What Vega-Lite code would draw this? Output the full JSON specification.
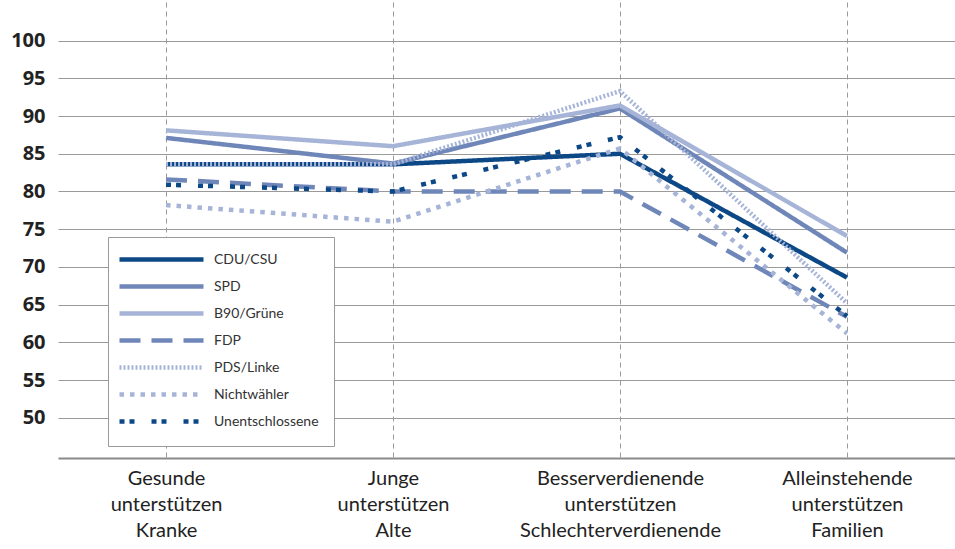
{
  "$schema": "https://vega.github.io/schema/vega-lite/v6.json",
  "autosize": {"type": "none"},
  "width": 897,
  "height": 456,
  "padding": {"left": 58, "top": 2, "right": 0, "bottom": 91},
  "background": "white",
  "config": {
    "view": {"stroke": null},
    "font": "Open Sans"
  },
  "data": {
    "values": [
      {"cat": "Gesunde unterstützen Kranke", "party": "CDU/CSU", "value": 83.6},
      {"cat": "Junge unterstützen Alte", "party": "CDU/CSU", "value": 83.6},
      {"cat": "Besserverdienende unterstützen Schlechterverdienende", "party": "CDU/CSU", "value": 85.0},
      {"cat": "Alleinstehende unterstützen Familien", "party": "CDU/CSU", "value": 68.6},
      {"cat": "Gesunde unterstützen Kranke", "party": "SPD", "value": 87.1},
      {"cat": "Junge unterstützen Alte", "party": "SPD", "value": 83.7},
      {"cat": "Besserverdienende unterstützen Schlechterverdienende", "party": "SPD", "value": 91.0},
      {"cat": "Alleinstehende unterstützen Familien", "party": "SPD", "value": 71.9},
      {"cat": "Gesunde unterstützen Kranke", "party": "B90/Grüne", "value": 88.1},
      {"cat": "Junge unterstützen Alte", "party": "B90/Grüne", "value": 86.0},
      {"cat": "Besserverdienende unterstützen Schlechterverdienende", "party": "B90/Grüne", "value": 91.4},
      {"cat": "Alleinstehende unterstützen Familien", "party": "B90/Grüne", "value": 74.1},
      {"cat": "Gesunde unterstützen Kranke", "party": "FDP", "value": 81.6},
      {"cat": "Junge unterstützen Alte", "party": "FDP", "value": 80.0},
      {"cat": "Besserverdienende unterstützen Schlechterverdienende", "party": "FDP", "value": 80.0},
      {"cat": "Alleinstehende unterstützen Familien", "party": "FDP", "value": 63.4},
      {"cat": "Gesunde unterstützen Kranke", "party": "PDS/Linke", "value": 83.6},
      {"cat": "Junge unterstützen Alte", "party": "PDS/Linke", "value": 83.6},
      {"cat": "Besserverdienende unterstützen Schlechterverdienende", "party": "PDS/Linke", "value": 93.3},
      {"cat": "Alleinstehende unterstützen Familien", "party": "PDS/Linke", "value": 65.2},
      {"cat": "Gesunde unterstützen Kranke", "party": "Nichtwähler", "value": 78.2},
      {"cat": "Junge unterstützen Alte", "party": "Nichtwähler", "value": 76.0},
      {"cat": "Besserverdienende unterstützen Schlechterverdienende", "party": "Nichtwähler", "value": 85.7},
      {"cat": "Alleinstehende unterstützen Familien", "party": "Nichtwähler", "value": 61.2},
      {"cat": "Gesunde unterstützen Kranke", "party": "Unentschlossene", "value": 80.9},
      {"cat": "Junge unterstützen Alte", "party": "Unentschlossene", "value": 80.0},
      {"cat": "Besserverdienende unterstützen Schlechterverdienende", "party": "Unentschlossene", "value": 87.2},
      {"cat": "Alleinstehende unterstützen Familien", "party": "Unentschlossene", "value": 63.5}
    ]
  },
  "mark": {"type": "line", "strokeWidth": 4.5, "strokeCap": "butt", "strokeJoin": "miter"},
  "encoding": {
    "x": {
      "field": "cat",
      "type": "nominal",
      "sort": null,
      "scale": {"type": "point", "padding": 0.476},
      "axis": {
        "title": null,
        "labelAngle": 0,
        "labelExpr": "split(datum.value, ' ')",
        "labelFont": "Lato",
        "labelFontSize": 20,
        "labelLineHeight": 26,
        "labelColor": "#222222",
        "labelPadding": 10,
        "labelBaseline": "top",
        "labelLimit": 400,
        "domain": true,
        "domainColor": "#8a8a8a",
        "domainWidth": 2,
        "ticks": false,
        "grid": true,
        "gridColor": "#9a9a9a",
        "gridDash": [5, 4],
        "gridWidth": 1
      }
    },
    "y": {
      "field": "value",
      "type": "quantitative",
      "scale": {"domain": [44.7, 105.1], "nice": false, "zero": false},
      "axis": {
        "title": null,
        "values": [50, 55, 60, 65, 70, 75, 80, 85, 90, 95, 100],
        "labelFontSize": 20,
        "labelFontWeight": "bold",
        "labelColor": "#222222",
        "labelPadding": 13,
        "ticks": false,
        "domain": false,
        "grid": true,
        "gridColor": "#9a9a9a",
        "gridWidth": 1
      }
    },
    "color": {
      "field": "party",
      "type": "nominal",
      "scale": {
        "domain": ["CDU/CSU", "SPD", "B90/Grüne", "FDP", "PDS/Linke", "Nichtwähler", "Unentschlossene"],
        "range": ["#0d4886", "#6f86b8", "#a6b4d8", "#6f86b8", "#a6b4d8", "#a6b4d8", "#0d4886"]
      },
      "legend": {
        "title": null,
        "orient": "none",
        "legendX": 50,
        "legendY": 235,
        "symbolType": "M-1,0H15.8",
        "symbolSize": 100,
        "symbolStrokeWidth": 4.5,
        "symbolOffset": -6,
        "labelFont": "Lato",
        "labelFontSize": 14,
        "labelColor": "#333333",
        "labelOffset": 82,
        "rowPadding": 8,
        "padding": 15,
        "strokeColor": "#9a9a9a",
        "fillColor": "white"
      }
    },
    "strokeDash": {
      "field": "party",
      "type": "nominal",
      "scale": {
        "domain": ["CDU/CSU", "SPD", "B90/Grüne", "FDP", "PDS/Linke", "Nichtwähler", "Unentschlossene"],
        "range": [[1, 0], [1, 0], [1, 0], [21, 11], [2, 2], [4.5, 6], [5, 5, 5, 17]]
      },
      "legend": null
    }
  }
}
